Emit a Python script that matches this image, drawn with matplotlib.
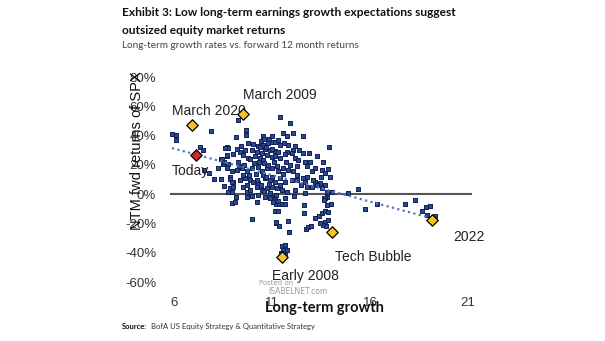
import matplotlib.pyplot as plt
from matplotlib.ticker import FuncFormatter

# long-term growth (x) vs NTM fwd returns of SPX in % (y)
growth = [
    5.9, 6.13, 6.13, 7.33, 7.5, 7.87, 7.53, 7.8, 8.04, 8.38, 8.4, 8.26, 8.55, 8.69,
    8.94, 9.16, 9.28, 9.66, 10.53, 11.41, 11.92, 11.55, 12.06, 13.92, 13.62, 13.87,
    14.86, 15.4, 15.74, 16.34, 17.79, 18.3, 18.64, 18.86, 19.06, 18.92, 19.32,
    9.96, 11.15, 11.32, 11.19, 11.36, 11.53, 11.66, 11.19, 11.36, 11.83, 11.87,
    12.65, 12.65, 12.73, 12.85, 13.19, 13.4, 13.57, 13.7, 13.84, 13.7, 13.84, 14.01,
    13.79, 13.59, 13.76, 11.49, 11.58, 11.63, 11.46, 11.66, 11.66, 11.75, 11.2,
    13.45, 12.97, 13.65, 13.79,
    11.75, 12.6, 9.7, 9.76, 10.05, 10.3, 10.56, 10.81, 10.98, 11.15, 11.41, 11.63,
    11.83, 12.17, 8.77, 9.37, 9.62, 9.96, 10.22, 10.64, 10.9, 11.15, 11.32, 11.75,
    12.09, 12.6, 8.69, 9.03, 9.28, 9.54, 9.79, 10.13, 10.39, 10.56, 10.98, 11.15,
    11.41, 11.66, 12.17, 12.34, 12.68, 12.94, 8.69, 8.94, 9.2, 9.45, 9.71, 9.96,
    10.3, 10.47, 10.73, 10.98, 11.32, 11.58, 11.83, 12.09, 12.26, 12.6, 12.77,
    13.02, 13.19, 13.53, 13.7, 13.96, 8.86, 9.03, 9.37, 9.62, 9.88, 10.05, 10.3,
    10.64, 10.9, 11.15, 11.41, 11.66, 12.0, 12.26, 12.68, 13.19, 13.45, 13.7,
    8.86, 8.94, 9.54, 9.71, 9.88, 10.22, 10.47, 10.73, 10.98, 11.24, 11.49, 11.75,
    12.77, 13.02, 13.28, 13.53, 13.79, 14.04, 9.71, 9.96, 10.3, 10.64, 10.9, 11.15,
    11.66, 12.68, 13.7, 13.67, 9.11, 10.22, 11.07, 11.32,
    10.45, 10.6, 10.7, 10.5, 10.75, 10.6, 10.8, 10.55, 10.7, 10.45, 10.85, 10.6,
    10.9, 11.0, 11.1, 11.0, 10.35, 10.2, 10.1, 9.9, 9.85, 9.6, 9.5, 9.3, 9.4, 9.2,
    11.25, 11.4, 11.55, 11.7, 11.9, 12.0, 12.3, 12.4, 12.5, 12.8, 12.9, 13.1, 13.3,
    13.5, 10.85, 10.4, 11.3, 11.0, 10.25, 9.75, 9.15, 11.2, 12.2, 12.1,
    8.86, 8.94, 8.77, 9.03, 8.52, 8.77, 8.6, 8.69, 8.43, 8.57,
]
returns = [
    41.4, 40.2, 37.3, 31.9, 30.0, 43.2, 16.4, 14.5, 10.7, 10.7, 23.7, 18.2, 5.5, 31.9,
    -5.9, 39.1, 50.5, 43.7, 39.8, 52.8, 48.7, 41.5, 41.9, 31.9, 22.1, 16.9,
    0.5, 3.2, -10.4, -7.0, -7.0, -4.1, -11.4, -9.1, -8.2, -14.3, -15.0,
    -17.3, -11.4, -11.4, -6.4, -6.4, -6.4, -6.4, -19.6, -21.9, -18.2, -26.0,
    -7.5, -12.8, -24.1, -22.3, -16.6, -15.0, -13.2, -11.4, -12.1, -18.9, -17.8, -6.4,
    -7.5, -21.2, -21.9, -35.5, -37.8, -40.1, -40.1, -41.7, -34.8, -38.2, -18.9,
    -20.0, -21.7, -2.9, -1.8,
    40.0, 40.0, 40.5, 34.8, 34.1, 33.2, 33.7, 34.8, 35.9, 35.5, 33.7, 34.8,
    33.7, 33.2, 31.4, 29.1, 30.2, 30.2, 29.1, 30.9, 30.2, 29.6, 29.1, 29.1,
    30.2, 28.0, 26.4, 27.3, 22.3, 26.8, 25.0, 26.4, 25.0, 23.4, 25.7, 26.4,
    24.5, 27.3, 25.0, 23.4, 22.3, 22.3, 17.7, 15.5, 16.6, 17.7, 15.5, 17.7,
    18.9, 15.5, 17.7, 17.7, 15.5, 18.2, 16.6, 15.5, 13.2, 10.9, 12.0,
    15.5, 17.7, 16.6, 14.3, 12.0, 12.0, 8.6, 9.7, 10.9, 9.7, 8.6, 7.4,
    10.9, 9.7, 8.6, 11.3, 8.6, 9.7, 9.7, 8.6, 8.6, 7.4, 6.3,
    4.0, 1.8, 5.2, 1.8, 2.9, 5.2, 2.9, 4.0, 5.2, 4.0, 2.9, 1.8,
    5.2, 5.2, 6.3, 4.0, 1.8, 1.8, -1.7, -1.0, -0.5, -1.7, -2.4, -1.7,
    -2.4, 0.6, -2.8, -4.0, -5.1, -5.1, -5.5, -4.6,
    36.0, 37.5, 32.0, 28.0, 27.0, 21.0, 20.0, 13.0, 11.5, 6.0, 7.0, 2.0,
    0.5, 12.0, 22.0, 31.0, 22.0, 14.0, 21.0, 24.0, 13.0, 20.0, 13.0, 19.0, 33.0, 31.0,
    19.0, 6.0, 14.0, 22.0, 20.0, 28.0, 19.0, 30.0, 6.0, 19.0, 28.0, 10.0, 26.0,
    12.0, 38.0, 32.0, 37.0, 39.5, 10.0, 6.0, -2.0, -0.5, 3.0, -1.0,
    10.7, 8.4, 1.5, 5.0, 20.5, 20.9, 31.8, 26.6, 24.3, 22.0,
]

# highlighted episodes
event_names = ["March 2020", "March 2009", "Early 2008", "Tech Bubble", "2022"]
event_growth = [6.92, 9.52, 11.5, 14.06, 19.16]
event_returns = [47.0, 54.6, -43.0, -26.0, -17.8]
today_growth = 7.12
today_return = 26.6

# trend line end points
trend_x = [5.9, 19.3]
trend_y = [31.5, -17.0]

label_x = [5.9, 9.52, 11.0, 14.2, 20.23]
label_y = [56.7, 67.6, -56.0, -43.0, -29.4]

fig = plt.figure(figsize=(6.05, 3.41), dpi=100)
ax = fig.add_axes([0.281, 0.173, 0.499, 0.601])

ax.axhline(0, color="#555555", lw=1.5, zorder=1)
ax.scatter(growth, returns, marker="s", s=11, color="#2a4a92",
           edgecolors="#0f1f55", linewidths=0.7, zorder=2, clip_on=False)
ax.plot(trend_x, trend_y, ls=(0, (1, 1.5)), color="#4f78c0", lw=1.6, zorder=3)
ax.scatter(event_growth, event_returns, marker="D", s=34, color="#f7c322",
           edgecolors="black", linewidths=0.9, zorder=4, clip_on=False)
ax.scatter([today_growth], [today_return], marker="D", s=34, color="#e0202a",
           edgecolors="black", linewidths=0.9, zorder=4)

for name, lx, ly in zip(event_names, label_x, label_y):
    ax.text(lx, ly, name, fontsize=10, color="#222222", va="center",
            family="Liberation Sans", clip_on=False)
ax.text(5.9, 15.7, "Today", fontsize=10, color="#222222", va="center",
        family="Liberation Sans")

ax.set_xlim(5.8, 21.2)
ax.set_ylim(-60, 80)
ax.set_xticks([6, 11, 16, 21])
ax.set_yticks(range(-60, 81, 20))
ax.yaxis.set_major_formatter(FuncFormatter(lambda v, p: f"{v:.0f}%"))
ax.tick_params(length=0, labelsize=9.5, colors="#333333")
ax.tick_params(axis="x", pad=11)
ax.tick_params(axis="y", pad=10)
for lbl in ax.get_xticklabels() + ax.get_yticklabels():
    lbl.set_family("Liberation Sans")
for s in ax.spines.values():
    s.set_visible(False)

# y label sits on top of the tick labels, as in the original
fig.text(0.226, 0.557, "NTM fwd returns of SPX", rotation=90, fontsize=10.5,
         ha="center", va="center", family="Liberation Sans", color="#111111")
fig.text(0.537, 0.098, "Long-term growth", fontsize=10.5, fontweight="bold",
         ha="center", va="center", family="Lato", color="#111111")

fig.text(0.202, 0.962, "Exhibit 3: Low long-term earnings growth expectations suggest",
         fontsize=8.6, fontweight="bold", family="Lato", va="center", color="#111111")
fig.text(0.202, 0.912, "outsized equity market returns", fontsize=8.6,
         fontweight="bold", family="Lato", va="center", color="#111111")
fig.text(0.202, 0.866, "Long-term growth rates vs. forward 12 month returns",
         fontsize=7.2, family="Lato", va="center", color="#444444")
fig.text(0.202, 0.043, "Source:", fontsize=5.5, fontweight="bold",
         family="Lato", va="center", color="#111111")
fig.text(0.25, 0.043, "BofA US Equity Strategy & Quantitative Strategy",
         fontsize=5.5, family="Lato", va="center", color="#333333")

fig.text(0.428, 0.17, "Posted on", fontsize=5, color="#999999", va="center")
fig.text(0.444, 0.145, "ISABELNET.com", fontsize=5.5, color="#999999", va="center")

fig.savefig("out.png", dpi=100)
